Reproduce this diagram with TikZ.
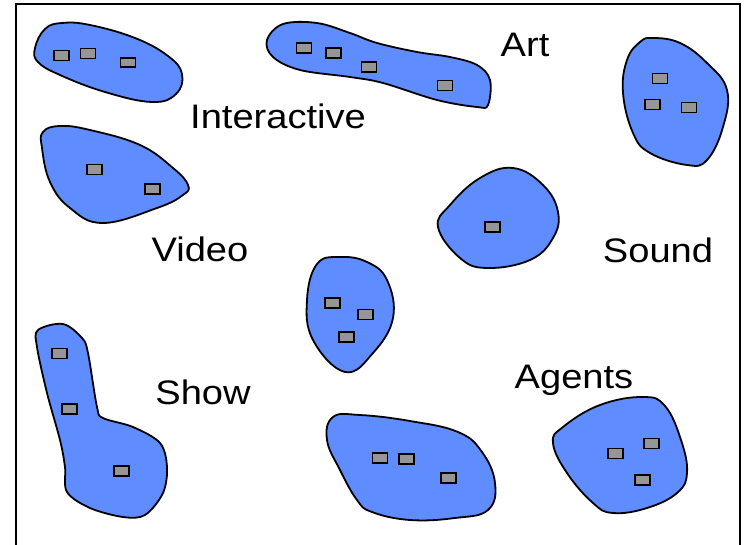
\documentclass[tikz,border=0pt]{standalone}
\usepackage{fontspec}
\setmainfont{Liberation Sans}
\definecolor{blobblue}{RGB}{95,140,255}
\definecolor{itemgray}{RGB}{150,150,150}
\begin{document}
\begin{tikzpicture}[x=1pt,y=-1pt,
  blob/.style={fill=blobblue,draw=black,line width=1.8pt,line join=round},
  item/.style={rectangle,draw=black,fill=itemgray,line width=1.3pt,minimum width=15pt,minimum height=10pt,inner sep=0pt},
  lbl/.style={font=\fontsize{34}{40}\selectfont,anchor=base,xscale=1.12,inner sep=0pt}]
\useasboundingbox (0,0) rectangle (747,545);
\draw[line width=1.5pt] (16,545) -- (16,4) -- (740,4) -- (740,545);

% blob 1 top-left
\draw[blob] plot[smooth cycle,tension=0.7] coordinates {(35,48) (45,29) (62,23) (90,25) (135,38) (168,56) (182,74) (176,94) (152,102) (105,92) (60,75) (38,62)};
\node[item] (a1) at (61.5,55.5) {};
\node[item] (a2) at (88,53.5) {};
\node[item,minimum height=9pt] (a3) at (128,62.5) {};

% blob 2 top middle
\draw[blob] plot[smooth cycle,tension=0.6] coordinates {(267,40) (283,24) (317,23) (350,33) (377,43) (417,52) (450,57) (477,65) (490,80) (488,105) (477,107) (437,100) (383,83) (350,77) (300,70) (273,57)};
\node[item] (b1) at (304,48) {};
\node[item] (b2) at (333.5,53) {};
\node[item] (b3) at (369,67) {};
\node[item] (b4) at (445,85.5) {};

% blob 3 top right
\draw[blob] plot[smooth cycle,tension=0.7] coordinates {(653,38) (680,43) (707,63) (727,90) (723,127) (707,160) (687,165) (650,153) (633,133) (623,93) (627,60) (640,42)};
\node[item] (c1) at (660,78.5) {};
\node[item] (c2) at (652.5,104.5) {};
\node[item] (c3) at (689,107.5) {};

% blob 4 video
\draw[blob] plot[smooth cycle,tension=0.7] coordinates {(43,132) (60,126) (90,130) (140,145) (173,168) (188,185) (183,195) (157,208) (103,223) (70,208) (50,182) (42,148)};
\node[item] (d1) at (94.5,169.5) {};
\node[item] (d2) at (152.5,189) {};

% blob 5 sound
\draw[blob] plot[smooth cycle,tension=0.7] coordinates {(513,168) (543,185) (558,212) (553,238) (530,260) (487,268) (460,258) (438,227) (450,205) (480,178)};
\node[item] (e1) at (492.5,227) {};

% blob 6 middle
\draw[blob] plot[smooth cycle,tension=0.7] coordinates {(340,257) (317,264) (307,300) (313,340) (345,372) (373,353) (393,318) (387,280) (367,262)};
\node[item] (f1) at (332.5,303) {};
\node[item] (f2) at (365.5,314.5) {};
\node[item] (f3) at (346.5,337) {};

% blob 7 show
\draw[blob] plot[smooth cycle,tension=0.55] coordinates {(38,330) (63,324) (82,338) (88,353) (97,407) (103,418) (133,427) (160,443) (167,467) (163,493) (145,515) (123,517) (90,508) (67,492) (65,467) (60,440) (47,393) (37,347)};
\node[item] (g1) at (59.5,353.5) {};
\node[item] (g2) at (69.5,409) {};
\node[item] (g3) at (121.5,471) {};

% blob 8 bottom middle
\draw[blob] plot[smooth cycle,tension=0.7] coordinates {(333,417) (360,415) (410,421) (458,432) (482,452) (495,483) (488,510) (455,518) (410,520) (372,512) (357,500) (340,470) (327,440)};
\node[item] (h1) at (380,458) {};
\node[item] (h2) at (406.5,459) {};
\node[item] (h3) at (448.5,478) {};

% blob 9 bottom right
\draw[blob] plot[smooth cycle,tension=0.7] coordinates {(643,397) (665,406) (681,440) (687,473) (677,493) (647,508) (613,513) (593,503) (567,473) (553,443) (563,427) (600,405)};
\node[item] (i1) at (615.5,453.5) {};
\node[item] (i2) at (651.5,443.5) {};
\node[item] (i3) at (642.5,480) {};

% labels
\node[lbl] (art) at (525,57) {Art};
\node[lbl] (interactive) at (278,129) {Interactive};
\node[lbl] (video) at (200,262) {Video};
\node[lbl] (sound) at (658,263) {Sound};
\node[lbl] (show) at (203,404) {Show};
\node[lbl] (agents) at (574,388) {Agents};
\end{tikzpicture}
\end{document}
